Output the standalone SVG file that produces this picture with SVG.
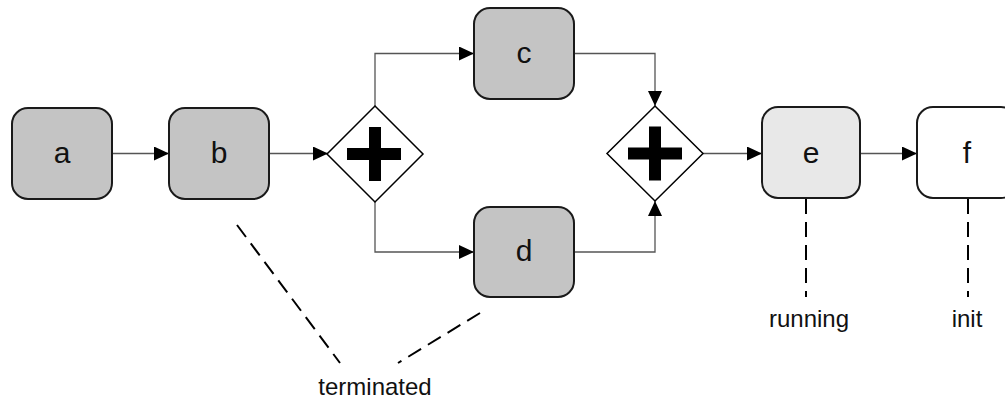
<svg xmlns="http://www.w3.org/2000/svg" width="1005" height="400" viewBox="0 0 1005 400">
  <defs>
    <marker id="arrow" markerUnits="userSpaceOnUse" markerWidth="15" markerHeight="14" refX="15" refY="7" orient="auto">
      <path d="M0,0 L15,7 L0,14 z" fill="#000"/>
    </marker>
    <style>
      .task { stroke: #1a1a1a; stroke-width: 2; }
      .done { fill: #c4c4c4; }
      .active { fill: #e8e8e8; }
      .idle { fill: #ffffff; }
      .gw { fill: #ffffff; stroke: #000; stroke-width: 1.5; }
      .plus { fill: #000; }
      .label { font-family: "Liberation Sans", Arial, Helvetica, sans-serif; font-size: 30px; fill: #111; text-anchor: middle; }
      .state { font-family: "Liberation Sans", Arial, Helvetica, sans-serif; font-size: 24px; fill: #111; text-anchor: middle; }
      .flow { fill: none; stroke: #555; stroke-width: 1.3; marker-end: url(#arrow); }
      .note { fill: none; stroke: #000; stroke-width: 2; stroke-dasharray: 15 8; }
    </style>
  </defs>

  <!-- sequence flows -->
  <g id="connectors">
    <path class="flow" d="M112,153.5 L169,153.5"/>
    <path class="flow" d="M269,153.5 L328,153.5"/>
    <path class="flow" d="M375,106 L375,53.5 L474,53.5"/>
    <path class="flow" d="M375,202 L375,252 L474,252"/>
    <path class="flow" d="M574,53.5 L655,53.5 L655,106"/>
    <path class="flow" d="M574,252 L655,252 L655,201"/>
    <path class="flow" d="M703,153.5 L762,153.5"/>
    <path class="flow" d="M860,153.5 L917,153.5"/>
  </g>

  <!-- state annotations -->
  <g id="annotations">
    <path class="note" d="M237,225 L340,363"/>
    <path class="note" d="M480,313 L398,363"/>
    <path class="note" d="M806,199 L806,297"/>
    <path class="note" d="M968,199 L968,297"/>
  </g>

  <g id="node-a">
    <rect class="task done" x="12" y="108" width="100" height="91" rx="16"/>
    <text class="label" x="62" y="163">a</text>
  </g>
  <g id="node-b">
    <rect class="task done" x="169" y="108" width="100" height="91" rx="16"/>
    <text class="label" x="219" y="163">b</text>
  </g>
  <g id="gateway-split">
    <polygon class="gw" points="375,106 423,154 375,202 327,154"/>
    <rect class="plus" x="347" y="148" width="54" height="12"/>
    <rect class="plus" x="369" y="127" width="12" height="54"/>
  </g>
  <g id="node-c">
    <rect class="task done" x="474" y="8" width="100" height="91" rx="16"/>
    <text class="label" x="524" y="63">c</text>
  </g>
  <g id="node-d">
    <rect class="task done" x="474" y="207" width="100" height="90" rx="16"/>
    <text class="label" x="524" y="261">d</text>
  </g>
  <g id="gateway-join">
    <polygon class="gw" points="655,106 703,153.5 655,201 607,153.5"/>
    <rect class="plus" x="628" y="147.5" width="54" height="12"/>
    <rect class="plus" x="649" y="126.5" width="12" height="54"/>
  </g>
  <g id="node-e">
    <rect class="task active" x="762" y="107" width="98" height="91" rx="16"/>
    <text class="label" x="811" y="163">e</text>
  </g>
  <g id="node-f">
    <rect class="task idle" x="917" y="107" width="100" height="91" rx="16"/>
    <text class="label" x="967" y="163">f</text>
  </g>

  <g id="state-labels">
    <text class="state" x="375" y="395">terminated</text>
    <text class="state" x="809" y="327">running</text>
    <text class="state" x="967" y="327">init</text>
  </g>
</svg>
